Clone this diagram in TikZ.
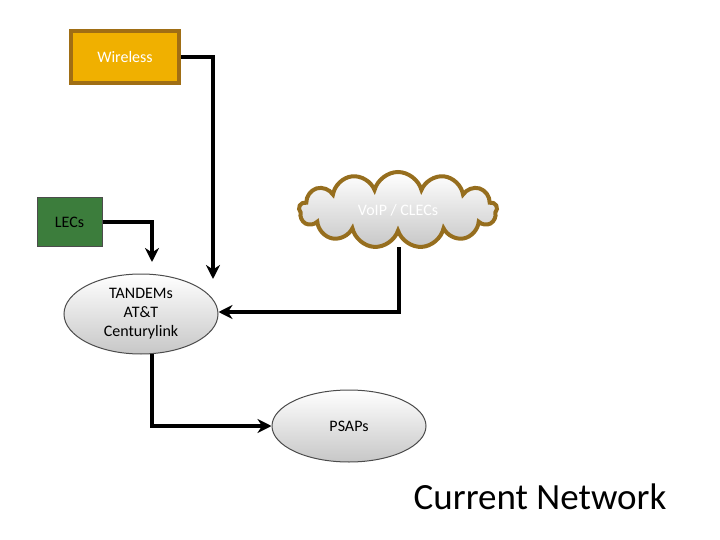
\documentclass[tikz,border=0pt]{standalone}
\usepackage{fontspec}
\setmainfont{Carlito}
\usetikzlibrary{shapes.symbols,shapes.geometric,arrows.meta}
\begin{document}
\begin{tikzpicture}[x=1pt,y=-1pt,
  conn/.style={line width=4pt,-{Stealth[length=14pt,width=14pt]}},
  ell/.style={ellipse,draw=black!70,line width=1pt,top color=white,bottom color=black!22,inner sep=0pt},
  lbl/.style={font=\fontsize{16}{19}\selectfont}]
\useasboundingbox (0,0) rectangle (720,540);
\node[draw={rgb,255:red,160;green,110;blue,20},line width=4pt,fill={rgb,255:red,240;green,176;blue,0},minimum width=108pt,minimum height=52pt,lbl,text=white] (w) at (125,57) {Wireless};
\node[draw=black!70,line width=1pt,fill={rgb,255:red,60;green,125;blue,60},minimum width=65pt,minimum height=48pt,lbl] (l) at (69.5,222) {LECs};
\node[cloud,cloud puffs=13,aspect=2.8,draw={rgb,255:red,150;green,110;blue,30},line width=4pt,top color=white,bottom color=black!22,minimum width=198pt,minimum height=76pt,lbl,text=white] (c) at (398,210) {VoIP / CLECs};
\node[ell,minimum width=154pt,minimum height=80pt,lbl,align=center] (t) at (141,314) {TANDEMs\\AT\&T\\Centurylink};
\node[ell,minimum width=154pt,minimum height=72pt,lbl] (p) at (349,426) {PSAPs};
\node[font=\fontsize{37}{44}\selectfont] (cn) at (540,497) {Current Network};
\draw[conn] (w.east) -- (213,57) -- (213,279);
\draw[conn] (l.east) -- (152,222) -- (152,262);
\draw[conn] (399,247) -- (399,312) -- (t.east |- 0,312);
\draw[conn] (152,354) -- (152,426) -- (p.west);
\end{tikzpicture}
\end{document}
